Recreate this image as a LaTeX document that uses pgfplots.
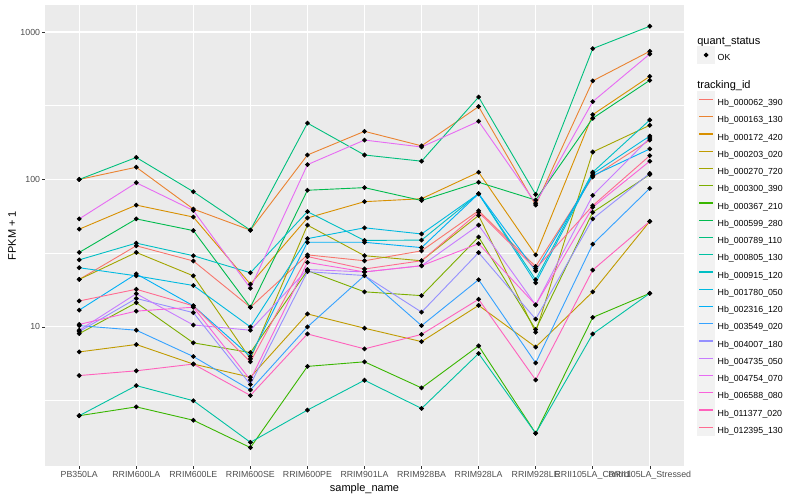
\documentclass[border=0pt]{standalone}
\usepackage{fontspec}
\setmainfont{Liberation Sans}
\usepackage{pgfplots}
\usepackage{pgfplotstable}
\pgfplotsset{compat=1.18}
\definecolor{c1}{HTML}{F8766D}
\definecolor{c2}{HTML}{EA8331}
\definecolor{c3}{HTML}{D89000}
\definecolor{c4}{HTML}{C09B00}
\definecolor{c5}{HTML}{A3A500}
\definecolor{c6}{HTML}{7CAE00}
\definecolor{c7}{HTML}{39B600}
\definecolor{c8}{HTML}{00BB4E}
\definecolor{c9}{HTML}{00BF7D}
\definecolor{c10}{HTML}{00C1A3}
\definecolor{c11}{HTML}{00BFC4}
\definecolor{c12}{HTML}{00BAE0}
\definecolor{c13}{HTML}{00B0F6}
\definecolor{c14}{HTML}{35A2FF}
\definecolor{c15}{HTML}{9590FF}
\definecolor{c16}{HTML}{C77CFF}
\definecolor{c17}{HTML}{E76BF3}
\definecolor{c18}{HTML}{FA62DB}
\definecolor{c19}{HTML}{FF62BC}
\definecolor{c20}{HTML}{FF6C91}
\definecolor{panelbg}{HTML}{EBEBEB}
\definecolor{keybg}{HTML}{F2F2F2}
\definecolor{ticktext}{HTML}{4D4D4D}
\definecolor{tickline}{HTML}{333333}

\pgfplotstableread{
x s1 s2 s3 s4 s5 s6 s7 s8 s9 s10 s11 s12 s13 s14 s15 s16 s17 s18 s19 s20
0 21 100 46 6.77 21 9.0 2.5 32 100 2.5 28.5 25.2 13 10.2 9.3 9.5 54 10.4 4.68 15
1 35.5 121 67 7.6 32 14.6 2.87 54 141 4.0 37 22.2 22.9 9.5 15.6 16.8 95 12.8 5.04 18
2 28 63 55.6 5.6 22.2 7.8 2.33 45 82.6 3.16 30.4 19.1 13.9 6.3 12.5 10.3 61.6 13.6 5.6 13.9
3 13.6 45.3 19.5 4.56 6.07 6.7 1.52 13.6 45.3 1.65 23.3 10 6.3 3.74 4.07 9.5 18.3 4.37 3.43 5.8
4 30.8 146.5 54.8 12.25 49 24.1 5.4 84.5 241 2.73 60.5 39.7 37.5 10 23.7 24.5 126 27.4 8.96 30
5 28.1 212 70.7 9.8 30.4 17.3 5.8 88 146.5 4.35 38.6 47 37.5 22.3 22.3 23.6 185 23.6 7.1 24.7
6 32.8 169 74 7.95 28.1 16.3 3.86 72 133 2.8 38.8 42.7 34.5 10.2 12.6 26 166 26 8.9 28.1
7 61.4 312 112 14 57 40.7 7.44 95.7 362 6.6 80 80 80 20.9 31.9 49 248 36.7 15.4 59.9
8 25.7 67 30.8 7.3 9.2 9.6 1.9 72.5 79.2 1.9 20.9 19.9 24 5.7 11.3 14.1 69 14.1 4.37 24.8
9 104 466 275 17.3 153.5 59.9 11.6 260 771 8.96 112 109 106 36.4 54 78 337 64.8 24.3 66.4
10 185 740 500 52 233 108 16.9 470 1094 16.9 253 197 161 87 110 191 709 133 52 145
}\data

\begin{document}
\begin{tikzpicture}
\path[use as bounding box] (0,0) rectangle (800bp,500bp);
\begin{axis}[
  at={(45bp,34bp)}, anchor=south west,
  scale only axis, width=639bp, height=461bp,
  xmin=-0.6, xmax=10.6,
  ymode=log, ymin=1.14, ymax=1524,
  axis background/.style={fill=panelbg},
  axis line style={draw=none},
  xtick={0,...,10},
  xticklabels={PB350LA,RRIM600LA,RRIM600LE,RRIM600SE,RRIM600PE,RRIM901LA,RRIM928BA,RRIM928LA,RRIM928LE,RRII105LA\_Control,RRII105LA\_Stressed},
  ytick={10,100,1000},
  yticklabels={10,100,1000},
  minor ytick={3.1623,31.623,316.23},
  minor tick length=0pt,
  xtick pos=bottom, ytick pos=left,
  tick align=outside, major tick length=2.75bp,
  tick style={color=tickline, line width=0.5bp},
  grid=both,
  major grid style={white, line width=1.07bp},
  minor grid style={white, line width=0.53bp},
  ticklabel style={font=\fontsize{8.8bp}{10bp}\selectfont, text=ticktext},
  xticklabel style={inner sep=0pt, anchor=base, yshift=-9bp},
  yticklabel style={inner sep=0pt, anchor=east, xshift=-2bp},
  xlabel={sample\_name},
  ylabel={FPKM + 1},
  label style={font=\fontsize{11bp}{13bp}\selectfont},
  xlabel style={at={(axis description cs:0.5,0)}, anchor=base, yshift=-25bp, inner sep=0pt},
  ylabel style={at={(axis description cs:-0.0516,0.5)}, anchor=center, inner sep=0pt},
  legend cell align=left,
  legend style={at={(1.0203,0.9393)}, anchor=north west, draw=none, fill=none,
    inner sep=0pt, outer sep=0pt, row sep=-3bp, column sep=2.5bp,
    font=\fontsize{8.8bp}{10bp}\selectfont,
    nodes={inner sep=0pt, text height=11.65bp, text depth=5.65bp}},
  legend image code/.code={
    \fill[keybg] (0bp,-5.15bp) rectangle (17.3bp,11.15bp);
    \fill[#1, draw=none] (1.5bp,2.3bp) rectangle (15.8bp,3.7bp);},
  every axis plot/.append style={line width=0.9bp, mark=none},
]
\addlegendimage{empty legend}
\addlegendentry[text depth=4.75bp]{\makebox[0pt][l]{\hspace*{-20.8bp}\fontsize{11bp}{13bp}\selectfont quant\_status}}
\addlegendimage{legend image code/.code={
    \fill[keybg] (0bp,-5.15bp) rectangle (17.3bp,11.15bp);
    \fill[black] (8.65bp,3bp) circle (1.8bp);}}
\addlegendentry{OK}
\addlegendimage{empty legend}
\addlegendentry[text height=24.95bp, text depth=5.35bp]{\makebox[0pt][l]{\hspace*{-20.8bp}\fontsize{11bp}{13bp}\selectfont tracking\_id}}

\addplot[c1] table[x=x,y=s1]{\data}; \addlegendentry{Hb\_000062\_390}
\addplot[c2] table[x=x,y=s2]{\data}; \addlegendentry{Hb\_000163\_130}
\addplot[c3] table[x=x,y=s3]{\data}; \addlegendentry{Hb\_000172\_420}
\addplot[c4] table[x=x,y=s4]{\data}; \addlegendentry{Hb\_000203\_020}
\addplot[c5] table[x=x,y=s5]{\data}; \addlegendentry{Hb\_000270\_720}
\addplot[c6] table[x=x,y=s6]{\data}; \addlegendentry{Hb\_000300\_390}
\addplot[c7] table[x=x,y=s7]{\data}; \addlegendentry{Hb\_000367\_210}
\addplot[c8] table[x=x,y=s8]{\data}; \addlegendentry{Hb\_000599\_280}
\addplot[c9] table[x=x,y=s9]{\data}; \addlegendentry{Hb\_000789\_110}
\addplot[c10] table[x=x,y=s10]{\data}; \addlegendentry{Hb\_000805\_130}
\addplot[c11] table[x=x,y=s11]{\data}; \addlegendentry{Hb\_000915\_120}
\addplot[c12] table[x=x,y=s12]{\data}; \addlegendentry{Hb\_001780\_050}
\addplot[c13] table[x=x,y=s13]{\data}; \addlegendentry{Hb\_002316\_120}
\addplot[c14] table[x=x,y=s14]{\data}; \addlegendentry{Hb\_003549\_020}
\addplot[c15] table[x=x,y=s15]{\data}; \addlegendentry{Hb\_004007\_180}
\addplot[c16] table[x=x,y=s16]{\data}; \addlegendentry{Hb\_004735\_050}
\addplot[c17] table[x=x,y=s17]{\data}; \addlegendentry{Hb\_004754\_070}
\addplot[c18] table[x=x,y=s18]{\data}; \addlegendentry{Hb\_006588\_080}
\addplot[c19] table[x=x,y=s19]{\data}; \addlegendentry{Hb\_011377\_020}
\addplot[c20] table[x=x,y=s20]{\data}; \addlegendentry{Hb\_012395\_130}

\pgfplotsinvokeforeach{1,...,20}{
  \addplot[only marks, mark=*, mark size=1.9bp, black, forget plot] table[x=x,y=s#1]{\data};
}
\end{axis}
\end{tikzpicture}
\end{document}
